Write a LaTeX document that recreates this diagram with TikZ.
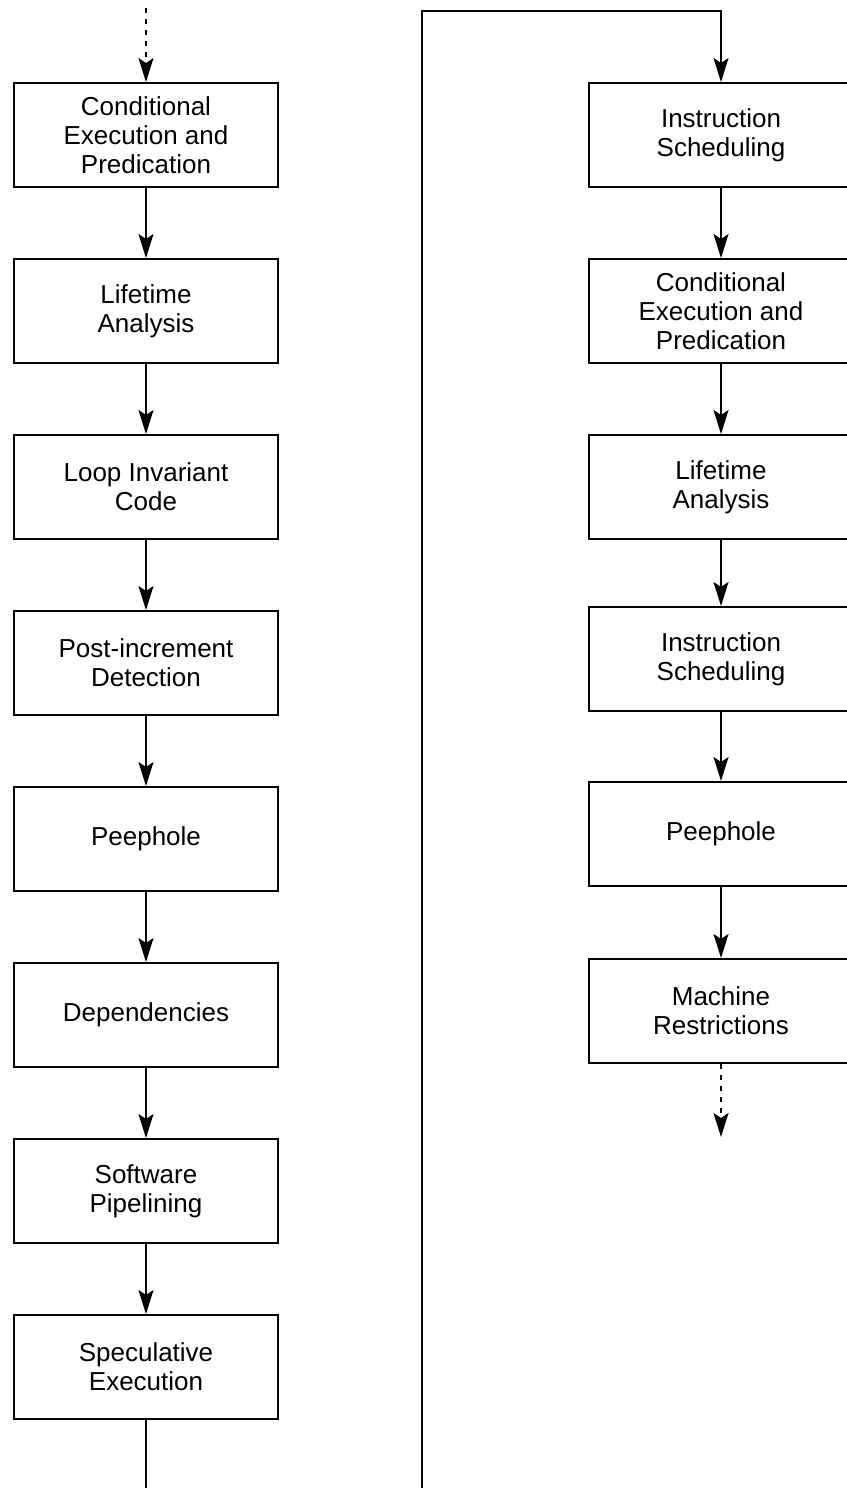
\documentclass[tikz,border=0pt]{standalone}
\usepackage{fontspec}
\setmainfont{Liberation Sans}
\usetikzlibrary{arrows.meta}
\begin{document}
\begin{tikzpicture}[x=0.5pt,y=-0.5pt,
  line width=1pt,
  stage/.style={draw, rectangle, minimum width=132pt, minimum height=52pt,
    inner sep=0pt, align=center, font=\fontsize{13pt}{14.6pt}\selectfont},
  flow/.style={-{Stealth[length=12pt,width=7.5pt,inset=2.5pt]}},
  pending/.style={flow, dash pattern=on 2.5pt off 3pt}]
\useasboundingbox (0,0) rectangle (846,1488);

% left column
\node[stage] (L1) at (146,135) {Conditional\\Execution and\\Predication};
\node[stage] (L2) at (146,311) {Lifetime\\Analysis};
\node[stage] (L3) at (146,487) {Loop Invariant\\Code};
\node[stage] (L4) at (146,663) {Post-increment\\Detection};
\node[stage] (L5) at (146,839) {Peephole};
\node[stage] (L6) at (146,1015) {Dependencies};
\node[stage] (L7) at (146,1191) {Software\\Pipelining};
\node[stage] (L8) at (146,1367) {Speculative\\Execution};

% right column
\node[stage] (R1) at (721,135) {Instruction\\Scheduling};
\node[stage] (R2) at (721,311) {Conditional\\Execution and\\Predication};
\node[stage] (R3) at (721,487) {Lifetime\\Analysis};
\node[stage] (R4) at (721,659) {Instruction\\Scheduling};
\node[stage] (R5) at (721,834) {Peephole};
\node[stage] (R6) at (721,1011) {Machine\\Restrictions};

% free ends
\coordinate (topin) at (146,8);
\coordinate (leftout) at (146,1488);
\coordinate (rightin) at (422,1488);
\coordinate (corner1) at (422,11);
\coordinate (corner2) at (721,11);
\coordinate (rightout) at (721,1137);

% left chain
\draw[pending] (topin) -- (L1.north);
\foreach \a/\b in {L1/L2,L2/L3,L3/L4,L4/L5,L5/L6,L6/L7,L7/L8}
  \draw[flow] (\a.south) -- (\b.north);
\draw (L8.south) -- (leftout);

% right chain
\draw[flow] (rightin) -- (corner1) -- (corner2) -- (R1.north);
\foreach \a/\b in {R1/R2,R2/R3,R3/R4,R4/R5,R5/R6}
  \draw[flow] (\a.south) -- (\b.north);
\draw[pending] (R6.south) -- (rightout);
\end{tikzpicture}
\end{document}
